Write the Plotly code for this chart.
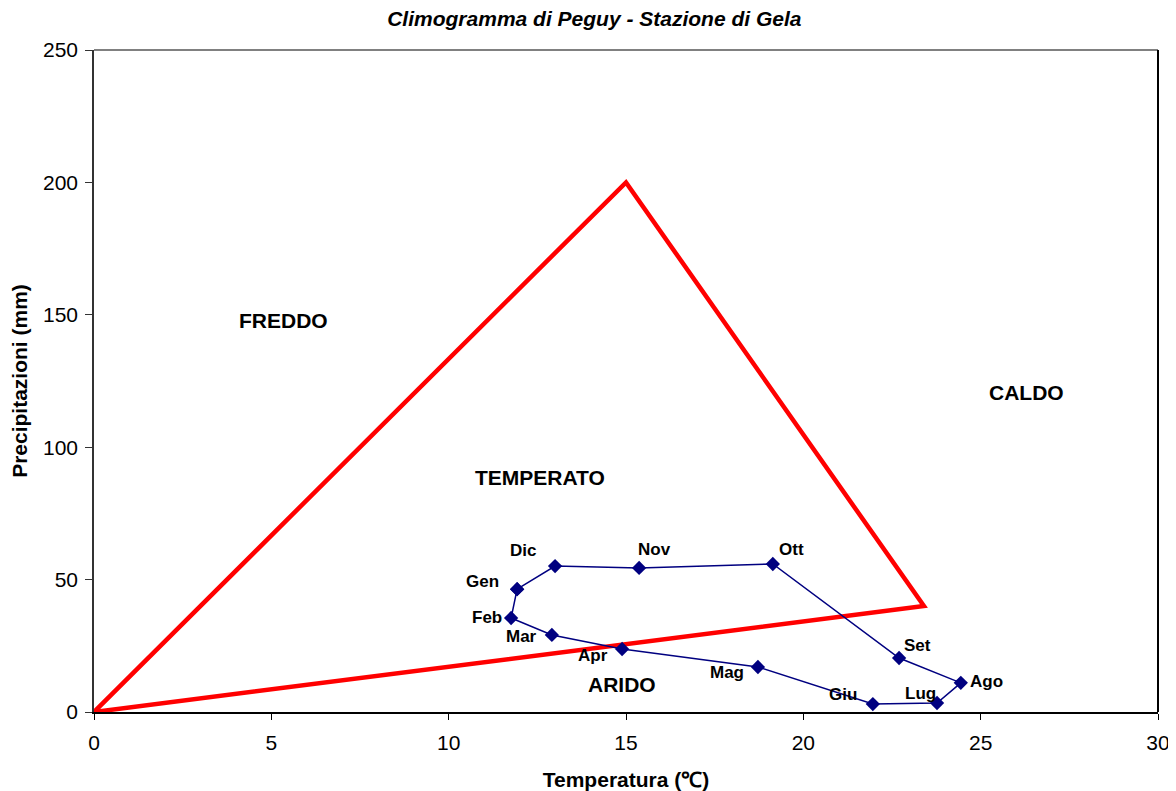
import plotly.graph_objects as go

months = ["Gen", "Feb", "Mar", "Apr", "Mag", "Giu", "Lug", "Ago", "Set", "Ott", "Nov", "Dic"]
temperature = [11.93, 11.76, 12.91, 14.89, 18.72, 21.96, 23.77, 24.44, 22.70, 19.14, 15.37, 13.00]
precipitation = [46.4, 35.5, 29.1, 23.8, 17.0, 3.0, 3.4, 11.0, 20.4, 55.9, 54.4, 55.1]

triangle_x = [0, 15, 23.4, 0]
triangle_y = [0, 200, 40, 0]

zone_labels = ["FREDDO", "TEMPERATO", "CALDO", "ARIDO"]
zone_x = [5.33, 12.57, 26.28, 14.89]
zone_y = [148, 88.7, 120.5, 10.2]

# label offsets in pixels (style only)
label_dx = [-35, -24, -30, -29, -31, -30, -17, 26, 18, 19, 15, -32]
label_dy = [8, 1, -2, -7, -6, 10, 10, 1, 12, 14, 18, 16]

FONT = "Liberation Sans, Arial, sans-serif"

fig = go.Figure()
fig.add_trace(go.Scatter(x=triangle_x, y=triangle_y, mode="lines",
                         line=dict(color="#ff0000", width=4.5), hoverinfo="skip",
                         showlegend=False))
fig.add_trace(go.Scatter(x=temperature + temperature[:1], y=precipitation + precipitation[:1],
                         mode="lines+markers",
                         line=dict(color="#000080", width=1.5),
                         marker=dict(symbol="diamond", size=11, color="#000080"),
                         showlegend=False))

for m, x, y, dx, dy in zip(months, temperature, precipitation, label_dx, label_dy):
    fig.add_annotation(x=x, y=y, text=f"<b>{m}</b>", showarrow=False,
                       xshift=dx, yshift=dy, font=dict(family=FONT, size=17, color="black"))

for t, x, y in zip(zone_labels, zone_x, zone_y):
    fig.add_annotation(x=x, y=y, text=f"<b>{t}</b>", showarrow=False,
                       font=dict(family=FONT, size=21, color="black"))

fig.update_layout(
    width=1168, height=783,
    margin=dict(l=86, r=18, t=42, b=79),
    paper_bgcolor="white", plot_bgcolor="white",
    font=dict(family=FONT, size=21, color="black"),
    title=dict(text="<b><i>Climogramma di Peguy - Stazione di Gela</i></b>",
               x=0.502, xanchor="center", y=0.987, yanchor="middle",
               font=dict(family=FONT, size=21, color="black")),
    xaxis=dict(range=[0, 30], tickvals=[0, 5, 10, 15, 20, 25, 30], automargin=False,
               showgrid=False, zeroline=False, showline=True, linecolor="black", linewidth=1.5,
               ticks="outside", ticklen=6, tickcolor="black", ticklabelstandoff=5,
               title=dict(text="<b>Temperatura (℃)</b>", font=dict(family=FONT, size=21), standoff=19),
               mirror=False),
    yaxis=dict(range=[0, 250], tickvals=[0, 50, 100, 150, 200, 250], automargin=False,
               showgrid=False, zeroline=False, showline=True, linecolor="#333333", linewidth=1.5,
               ticks="outside", ticklen=7, tickcolor="#333333", ticklabelstandoff=3,
               title=dict(text="<b>Precipitazioni (mm)</b>", font=dict(family=FONT, size=21), standoff=10)),
    shapes=[
        dict(type="line", xref="paper", yref="paper", x0=0, x1=1, y0=1, y1=1,
             line=dict(color="#808080", width=2)),
        dict(type="line", xref="paper", yref="paper", x0=1, x1=1, y0=0, y1=1,
             line=dict(color="black", width=2)),
    ],
)

fig.write_html("out.html")
